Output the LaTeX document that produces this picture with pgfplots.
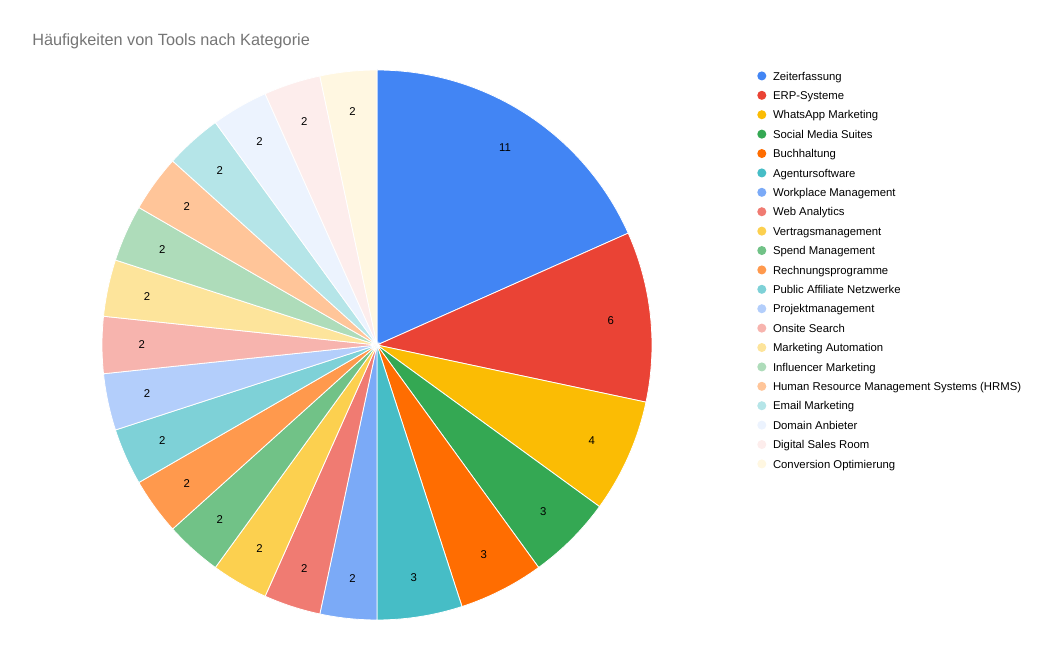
\documentclass[border=0pt]{standalone}
\usepackage{fontspec}
\setmainfont{Liberation Sans}
\usepackage{pgfplots}
\usepackage{pgfplotstable}
\pgfplotsset{compat=1.18}

\definecolor{c1}{HTML}{4285F4}
\definecolor{c2}{HTML}{EA4335}
\definecolor{c3}{HTML}{FBBC04}
\definecolor{c4}{HTML}{34A853}
\definecolor{c5}{HTML}{FF6D01}
\definecolor{c6}{HTML}{46BDC6}
\definecolor{c7}{HTML}{7BAAF7}
\definecolor{c8}{HTML}{F07B72}
\definecolor{c9}{HTML}{FCD04F}
\definecolor{c10}{HTML}{71C287}
\definecolor{c11}{HTML}{FF994D}
\definecolor{c12}{HTML}{7ED1D7}
\definecolor{c13}{HTML}{B3CEFB}
\definecolor{c14}{HTML}{F7B4AE}
\definecolor{c15}{HTML}{FDE49B}
\definecolor{c16}{HTML}{AEDCBA}
\definecolor{c17}{HTML}{FFC599}
\definecolor{c18}{HTML}{B5E5E8}
\definecolor{c19}{HTML}{ECF3FE}
\definecolor{c20}{HTML}{FDEDEC}
\definecolor{c21}{HTML}{FFF7E1}
\definecolor{titlegrey}{HTML}{757575}

% counts per category, clockwise from 12 o'clock
\pgfplotstableread[col sep=comma]{
name,count,color
Zeiterfassung,11,c1
ERP-Systeme,6,c2
WhatsApp Marketing,4,c3
Social Media Suites,3,c4
Buchhaltung,3,c5
Agentursoftware,3,c6
Workplace Management,2,c7
Web Analytics,2,c8
Vertragsmanagement,2,c9
Spend Management,2,c10
Rechnungsprogramme,2,c11
Public Affiliate Netzwerke,2,c12
Projektmanagement,2,c13
Onsite Search,2,c14
Marketing Automation,2,c15
Influencer Marketing,2,c16
Human Resource Management Systems (HRMS),2,c17
Email Marketing,2,c18
Domain Anbieter,2,c19
Digital Sales Room,2,c20
Conversion Optimierung,2,c21
}\datatable

% pie geometry in pixel units of the 1053x648 frame
\def\cx{377}
\def\cy{303}
\def\rad{275}

\begin{document}
\begin{tikzpicture}
\begin{axis}[
  scale only axis,
  width=789.75pt, height=486pt,
  xmin=0, xmax=1053, ymin=0, ymax=648,
  hide axis,
  clip=false,
  legend cell align=left,
  legend image code/.code={\fill[#1,draw=none] (0.5em,3.1pt) circle (3.4pt);},
  legend style={at={(axis cs:757,577)}, anchor=north west, draw=none,
                fill=none, font=\fontsize{8.5}{8.5}\selectfont,
                row sep=5.55pt, column sep=5pt, inner sep=0pt,
                nodes={inner sep=0pt, text height=6.6pt, text depth=2.4pt,
                       anchor=base west}},
]
% keep the full frame in the bounding box
\path (rel axis cs:0,0) rectangle (rel axis cs:1,1);
\pgfplotstablegetrowsof{\datatable}
\pgfmathtruncatemacro\N{\pgfplotsretval-1}
\def\total{0}
\pgfplotsforeachungrouped \i in {0,...,\N}{%
  \pgfplotstablegetelem{\i}{count}\of\datatable
  \pgfmathsetmacro\total{\total+\pgfplotsretval}%
}
\def\cum{0}
\pgfplotsforeachungrouped \i in {0,...,\N}{%
  \pgfplotstablegetelem{\i}{count}\of\datatable \let\val\pgfplotsretval
  \pgfplotstablegetelem{\i}{color}\of\datatable \let\col\pgfplotsretval
  \pgfplotstablegetelem{\i}{name}\of\datatable \let\nm\pgfplotsretval
  \pgfmathsetmacro\a{90-\cum/\total*360}%
  \pgfmathsetmacro\b{90-(\cum+\val)/\total*360}%
  \pgfmathsetmacro\m{(\a+\b)/2}%
  \pgfmathsetmacro\lx{\cx+0.855*\rad*cos(\m)}%
  \pgfmathsetmacro\ly{\cy+0.855*\rad*sin(\m)}%
  \pgfmathtruncatemacro\vv{\val}%
  \edef\temp{%
    \noexpand\addplot[fill=\col, draw=white, line width=0.6pt,
      domain=\b:\a, samples=60]
      ({\cx+\rad*cos(x)},{\cy+\rad*sin(x)}) -- (axis cs:\cx,\cy) -- cycle;
    \noexpand\addlegendentry{\nm}
    \noexpand\node[font=\noexpand\fontsize{8.5}{8.5}\noexpand\selectfont]
      at (axis cs:\lx,\ly) {\vv};
  }%
  \temp
  \pgfmathsetmacro\cum{\cum+\val}%
}
\node[anchor=base west, text=titlegrey,
      font=\fontsize{12.2}{12.2}\selectfont, inner sep=0pt]
  at (axis cs:32,602) {Häufigkeiten von Tools nach Kategorie};
\end{axis}
\end{tikzpicture}
\end{document}
